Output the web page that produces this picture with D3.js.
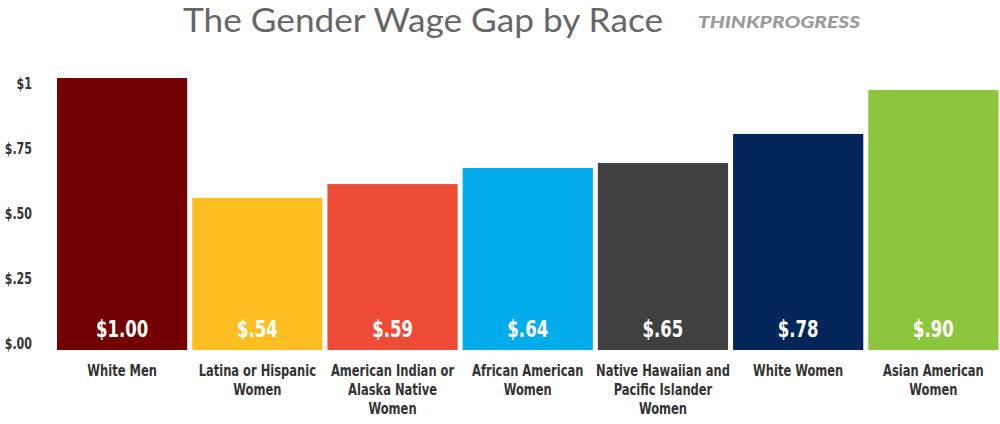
<!DOCTYPE html>
<html><head><meta charset="utf-8">
<script src="https://cdn.jsdelivr.net/npm/d3@7/dist/d3.min.js"></script>
<style>
html,body{margin:0;padding:0;background:#fff;}
svg{display:block;}
</style></head>
<body>
<svg id="chart" width="1000" height="424"></svg>
<script>
const categories = [
  ["White Men"],
  ["Latina or Hispanic", "Women"],
  ["American Indian or", "Alaska Native", "Women"],
  ["African American", "Women"],
  ["Native Hawaiian and", "Pacific Islander", "Women"],
  ["White Women"],
  ["Asian American", "Women"]
];
const valueLabels = ["$1.00", "$.54", "$.59", "$.64", "$.65", "$.78", "$.90"];
// bar heights as drawn in the picture, read against the axis
const barHeights = [1.023, 0.562, 0.615, 0.677, 0.696, 0.808, 0.977];
const colors = ["#730000", "#FDBE21", "#EE4C36", "#04ACEC", "#404040", "#02265A", "#8CC63F"];
const tickValues = [0, 0.25, 0.5, 0.75, 1];
const tickLabels = ["$.00", "$.25", "$.50", "$.75", "$1"];

const svg = d3.select("#chart");
const condensed = "'DejaVu Sans Condensed','Liberation Sans Narrow',sans-serif";

const x = d3.scaleBand().domain(d3.range(categories.length)).range([57, 998.5]).paddingInner(5/135.2).paddingOuter(0);
const y = d3.scaleLinear().domain([0, 1]).range([344, 84]);
const baseY = 350;

// title
svg.append("text").attr("x", 183).attr("y", 32)
  .attr("font-family", "'Lato','Open Sans',sans-serif").attr("font-size", 33)
  .attr("fill", "#666").attr("textLength", 480).attr("lengthAdjust", "spacingAndGlyphs")
  .text("The Gender Wage Gap by Race");
svg.append("text").attr("x", 698).attr("y", 28)
  .attr("font-family", "'Lato','DejaVu Sans',sans-serif").attr("font-size", 16)
  .attr("font-weight", 900).attr("font-style", "italic")
  .attr("fill", "#9a9a9a").attr("textLength", 162).attr("lengthAdjust", "spacingAndGlyphs")
  .text("THINKPROGRESS");

// y axis
const axis = d3.axisLeft(y).tickValues(tickValues).tickFormat((d, i) => tickLabels[i]).tickSize(0).tickPadding(0);
const g = svg.append("g").attr("transform", "translate(32,0)").call(axis);
g.select(".domain").remove();
g.selectAll("text").attr("font-family", condensed).attr("font-weight", "bold")
  .attr("font-size", 15).attr("fill", "#333").attr("transform", "scale(0.82,1)");

// bars
svg.selectAll("rect.bar").data(barHeights).join("rect").attr("class", "bar")
  .attr("x", (d, i) => x(i)).attr("width", x.bandwidth())
  .attr("y", d => y(d)).attr("height", d => baseY - y(d))
  .attr("fill", (d, i) => colors[i]);

// value labels
svg.selectAll("g.val").data(valueLabels).join("g").attr("class", "val")
  .attr("transform", (d, i) => `translate(${x(i) + x.bandwidth() / 2},337) scale(0.8,1)`)
  .append("text").attr("text-anchor", "middle").attr("font-family", condensed).attr("font-weight", "bold")
  .attr("font-size", 23).attr("fill", "#fff").text(d => d);

// category labels
const cat = svg.selectAll("g.cat").data(categories).join("g").attr("class", "cat")
  .attr("transform", (d, i) => `translate(${x(i) + x.bandwidth() / 2},0) scale(0.8,1)`)
  .append("text").attr("text-anchor", "middle").attr("font-family", condensed).attr("font-weight", "bold")
  .attr("font-size", 16).attr("fill", "#333");
cat.selectAll("tspan").data(d => d).join("tspan")
  .attr("x", 0).attr("y", (d, j) => 376 + j * 19).text(d => d);
</script>
</body></html>
